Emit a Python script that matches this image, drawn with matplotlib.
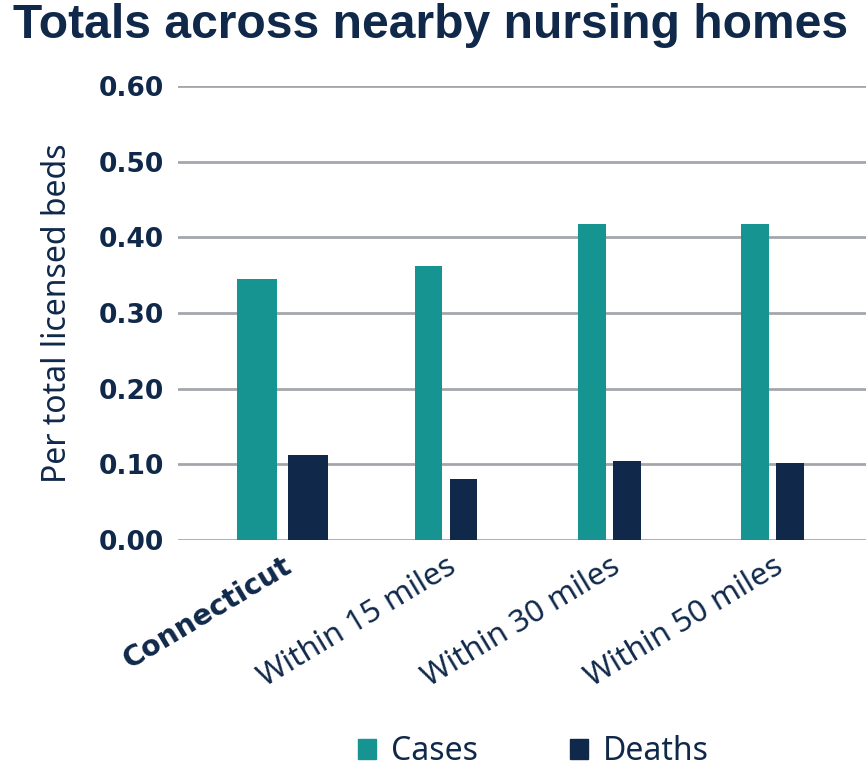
import matplotlib
matplotlib.use("Agg")
import matplotlib.pyplot as plt
from matplotlib.patches import Patch
import numpy as np

categories = ["Connecticut", "Within 15 miles", "Within 30 miles", "Within 50 miles"]
cases = [0.345, 0.362, 0.417, 0.417]
deaths = [0.112, 0.081, 0.105, 0.102]
yticks = [0.0, 0.1, 0.2, 0.3, 0.4, 0.5, 0.6]
ytick_labels = ["0.00", "0.10", "0.20", "0.30", "0.40", "0.50", "0.60"]

teal = "#169491"
navy = "#10294a"
grid_c = "#a3a7ab"

widths = [0.25, 0.17, 0.17, 0.17]
offsets = [0.156, 0.107, 0.107, 0.107]

fig = plt.figure(figsize=(8.66, 7.68), dpi=100)
ax = fig.add_axes([0.2055, 0.2969, 0.7945, 0.5911])

x = np.arange(len(categories))
for i in range(len(categories)):
    ax.bar(x[i] - offsets[i], cases[i], width=widths[i], color=teal, zorder=3)
    ax.bar(x[i] + offsets[i], deaths[i], width=widths[i], color=navy, zorder=3)

ax.set_ylim(0, 0.6)
ax.set_xlim(-0.64, 3.57)
ax.set_yticks(yticks)
ax.set_yticklabels(ytick_labels, fontsize=19, fontweight="bold", color=navy, family="DejaVu Sans")
ax.tick_params(axis="y", length=0, pad=10)
ax.tick_params(axis="x", length=0, pad=8)
ax.grid(axis="y", color=grid_c, linewidth=2, zorder=0)
for s in ax.spines.values():
    s.set_visible(False)

ax.set_xticks(x)
labels = ax.set_xticklabels(categories, rotation=31, ha="right", rotation_mode="anchor",
                            fontsize=22.5, color=navy, family="Noto Sans")
labels[0].set_fontweight("bold")
labels[0].set_family("DejaVu Sans")
labels[0].set_fontsize(20.5)
for l in labels[1:]:
    l.set_fontweight("light")

ax.set_ylabel("Per total licensed beds", fontsize=23, color=navy, fontweight="light",
              family="Noto Sans", labelpad=18)

fig.text(0.4975, 0.967, "Totals across nearby nursing homes", ha="center", va="center",
         fontsize=34.6, fontweight="bold", color=navy, family="Liberation Sans")

handles = [Patch(color=teal, label="Cases"), Patch(color=navy, label="Deaths")]
fig.legend(handles=handles, loc="center", bbox_to_anchor=(0.616, 0.021), ncol=2, frameon=False,
           prop={"family": "Noto Sans", "size": 23, "weight": "light"}, labelcolor=navy,
           handlelength=0.56, handleheight=0.56, columnspacing=2.9, handletextpad=0.47)

fig.savefig("out.png", dpi=100)
